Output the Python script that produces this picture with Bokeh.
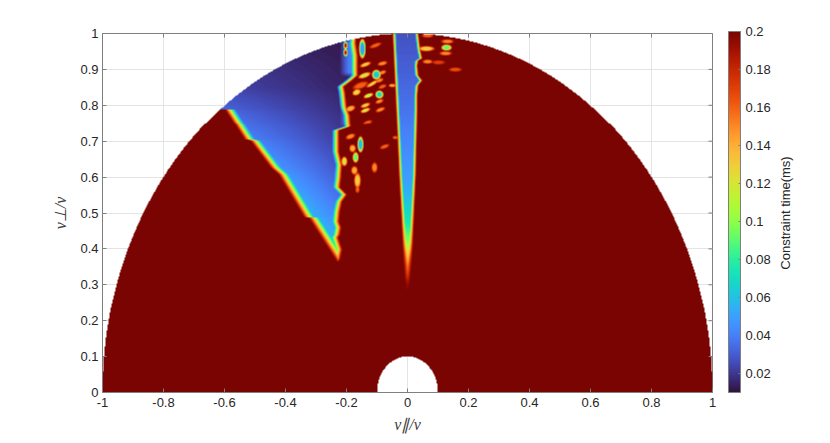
import numpy as np
from bokeh.embed import file_html
from bokeh.layouts import row
from bokeh.resources import INLINE
from bokeh.models import (ColorBar, FixedTicker, LinearColorMapper, Range1d)
from bokeh.palettes import Turbo256
from bokeh.plotting import figure

# ---- values -----------------------------------------------------------
x_ticks = [-1, -0.8, -0.6, -0.4, -0.2, 0, 0.2, 0.4, 0.6, 0.8, 1]
x_tick_labels = ["-1", "-0.8", "-0.6", "-0.4", "-0.2", "0", "0.2", "0.4", "0.6", "0.8", "1"]
y_ticks = [0, 0.1, 0.2, 0.3, 0.4, 0.5, 0.6, 0.7, 0.8, 0.9, 1]
y_tick_labels = ["0", "0.1", "0.2", "0.3", "0.4", "0.5", "0.6", "0.7", "0.8", "0.9", "1"]
cbar_ticks = [0.02, 0.04, 0.06, 0.08, 0.1, 0.12, 0.14, 0.16, 0.18, 0.2]
cbar_labels = ["0.02", "0.04", "0.06", "0.08", "0.1", "0.12", "0.14", "0.16", "0.18", "0.2"]
t_min, t_max = 0.01, 0.2

# wide wedge: lower-left boundary
wl_y = [0.363, 0.488, 0.489, 0.607, 0.626, 0.700, 0.705, 0.787, 0.790, 0.791, 1.0]
wl_x = [-0.230, -0.325, -0.340, -0.423, -0.449, -0.515, -0.535, -0.597, -0.600, -1.1, -1.1]
# wide wedge: jagged right boundary
wr_y = [0.363, 0.371, 0.399, 0.432, 0.440, 0.460, 0.476, 0.504, 0.532, 0.551, 0.571, 0.598, 0.634,
        0.670, 0.704, 0.729, 0.740, 0.773, 0.795, 0.814, 0.837, 0.853, 0.870, 0.884, 0.939, 0.972, 1.0]
wr_x = [-0.230, -0.220, -0.213, -0.226, -0.220, -0.216, -0.223, -0.220, -0.213, -0.197, -0.220, -0.216, -0.213,
        -0.223, -0.223, -0.223, -0.184, -0.187, -0.197, -0.200, -0.203, -0.207, -0.180, -0.161, -0.161, -0.167, -0.167]
# wide wedge: time at its left and right side, by height
wv_y = [0.363, 0.50, 0.60, 0.70, 0.78, 0.85, 0.95, 1.0]
wv_left = [0.062, 0.058, 0.050, 0.042, 0.034, 0.022, 0.014, 0.013]
wv_right = [0.060, 0.040, 0.030, 0.022, 0.018, 0.015, 0.013, 0.012]

# narrow central wedge
cl_y = [0.283, 0.307, 0.399, 0.607, 0.745, 1.0]
cl_x = [-0.005, -0.009, -0.016, -0.029, -0.036, -0.050]
cr_y = [0.283, 0.307, 0.399, 0.607, 0.787, 0.828, 0.856, 0.870, 0.884, 0.911, 0.925, 0.931, 0.953, 1.0]
cr_x = [0.005, 0.009, 0.018, 0.029, 0.034, 0.034, 0.037, 0.050, 0.037, 0.034, 0.037, 0.050, 0.044, 0.037]
cv_y = [0.283, 0.307, 0.335, 0.39, 0.42, 0.47, 0.557, 0.60, 0.70, 0.80, 0.90, 1.0]
cv_t = [0.200, 0.190, 0.165, 0.130, 0.100, 0.075, 0.055, 0.049, 0.042, 0.036, 0.031, 0.027]

# short-time patches in the scattered zone
blob_x = [-0.105, -0.138, -0.082, -0.141, -0.102, -0.082, -0.154, -0.115, -0.092, -0.167, -0.128, -0.092, -0.082,
          -0.187, -0.138, -0.138, -0.092, -0.089, -0.131, -0.187, -0.180, -0.154, -0.075, -0.170, -0.207, -0.108,
          -0.174, -0.164, -0.164, -0.148, 0.066, 0.062, 0.131, 0.128, 0.125, 0.102, 0.157, 0.066, -0.050, -0.040]
blob_y = [0.967, 0.914, 0.917, 0.884, 0.886, 0.892, 0.856, 0.861, 0.870, 0.837, 0.828, 0.831, 0.853,
          0.792, 0.801, 0.787, 0.812, 0.789, 0.753, 0.712, 0.679, 0.690, 0.684, 0.654, 0.643, 0.626,
          0.618, 0.590, 0.565, 0.958, 0.994, 0.958, 0.978, 0.961, 0.945, 0.920, 0.900, 0.922, 0.856, 0.709]
blob_w = [0.018, 0.016, 0.014, 0.018, 0.012, 0.011, 0.023, 0.020, 0.012, 0.012, 0.014, 0.011, 0.012,
          0.014, 0.014, 0.014, 0.012, 0.014, 0.014, 0.014, 0.009, 0.008, 0.014, 0.008, 0.008, 0.008,
          0.009, 0.009, 0.006, 0.009, 0.016, 0.022, 0.017, 0.014, 0.017, 0.018, 0.018, 0.014, 0.010, 0.008]
blob_h = [0.005, 0.005, 0.005, 0.006, 0.011, 0.005, 0.008, 0.005, 0.005, 0.007, 0.005, 0.009, 0.005,
          0.007, 0.005, 0.005, 0.005, 0.005, 0.005, 0.006, 0.009, 0.018, 0.005, 0.012, 0.011, 0.012,
          0.010, 0.018, 0.008, 0.022, 0.005, 0.006, 0.005, 0.007, 0.005, 0.005, 0.005, 0.005, 0.004, 0.004]
blob_tilt = [0.3, 0.3, 0.2, 0.3, 0.0, 0.3, 0.3, 0.5, 0.3, 0.3, 0.3, 0.0, 0.3,
             0.3, 0.3, 0.3, 0.3, 0.3, 0.3, 0.3, 0.0, 0.0, 0.3, 0.0, 0.0, 0.0,
             0.0, 0.0, 0.0, 0.0, 0.0, 0.0, 0.0, 0.0, 0.0, 0.0, 0.0, 0.0, 0.0, 0.0]
blob_t = [0.16, 0.13, 0.15, 0.12, 0.06, 0.15, 0.16, 0.13, 0.15, 0.12, 0.11, 0.07, 0.16,
          0.14, 0.13, 0.12, 0.15, 0.15, 0.16, 0.15, 0.14, 0.06, 0.16, 0.09, 0.12, 0.15,
          0.14, 0.13, 0.16, 0.05, 0.16, 0.13, 0.15, 0.09, 0.15, 0.17, 0.165, 0.15, 0.14, 0.16]

# long-time islands inside the bright strip
isle_x = [-0.203, -0.203]
isle_y = [0.967, 0.947]
isle_w = [0.008, 0.008]
isle_h = [0.012, 0.012]

# bright strips along the wedge's right side
strip_x0 = [-0.222, -0.222]
strip_x1 = [-0.161, -0.187]
strip_y0 = [0.880, 0.737]
strip_y1 = [0.985, 0.814]
strip_t = [0.040, 0.045]

# ---- build the time field on a grid ------------------------------------
nx, ny = 610, 361
xs = -1 + (np.arange(nx) + 0.5) * 2 / nx
ys = (np.arange(ny) + 0.5) / ny
X, Y = np.meshgrid(xs, ys)
Z = np.full(X.shape, t_max, dtype=float)

xl = np.interp(Y, wl_y, wl_x)
xr = np.interp(Y, wr_y, wr_x)
circle = -np.sqrt(np.clip(1 - Y**2, 0, 1))
xl_vis = np.maximum(xl, circle)
frac = np.clip((X - xl_vis) / np.maximum(-0.22 - xl_vis, 1e-3), 0, 1)
v_wedge = np.interp(Y, wv_y, wv_left) + (np.interp(Y, wv_y, wv_right) - np.interp(Y, wv_y, wv_left)) * frac

for x0, x1, y0, y1, t in zip(strip_x0, strip_x1, strip_y0, strip_y1, strip_t):
    fade = np.clip(np.minimum(Y - y0, y1 - Y) / 0.012, 0, 1)
    s = np.clip((X - x0) / 0.030, 0, 1) * fade
    v_wedge = np.where((s > 0) & (v_wedge < t), v_wedge + (t - v_wedge) * s, v_wedge)

d = np.minimum((X - xl) / 0.034, (xr - X) / 0.024)
ramp = np.clip(d, 0, 1)
inside = (Y >= wl_y[0]) & (d > 0)
Z = np.where(inside, t_max + (v_wedge - t_max) * ramp, Z)

cxl = np.interp(Y, cl_y, cl_x)
cxr = np.interp(Y, cr_y, cr_x)
half = np.maximum((cxr - cxl) / 2, 1e-4)
w = np.minimum(0.013, half)
dc = np.clip(np.minimum(X - cxl, cxr - X) / w, 0, 1)
in_c = (Y >= cl_y[0]) & (dc > 0)
v_c = np.interp(Y, cv_y, cv_t)
Z = np.where(in_c, t_max + (v_c - t_max) * dc, Z)

for bx, by, bw, bh, tilt, bt in zip(blob_x, blob_y, blob_w, blob_h, blob_tilt, blob_t):
    dx, dy = X - bx, Y - by
    u = (dx + dy * tilt) / (1.35 * bw)
    v = (dy - dx * tilt) / (1.35 * bh)
    Z = np.minimum(Z, t_max - (t_max - bt) * np.clip(1.25 * (1 - (u**2 + v**2)), 0, 1))

for bx, by, bw, bh in zip(isle_x, isle_y, isle_w, isle_h):
    f = np.clip(1 - (((X - bx) / bw) ** 2 + ((Y - by) / bh) ** 2), 0, 1)
    Z = Z + (t_max - Z) * f

R2 = X**2 + Y**2
Z[(R2 > 1) | (R2 < 0.1**2)] = np.nan

# ---- figure -------------------------------------------------------------
AXIS = "#7f7f7f"
TEXT = "#262626"
p = figure(width=774, height=435, output_backend="svg", toolbar_location=None,
           x_range=Range1d(-1, 1), y_range=Range1d(0, 1),
           min_border_left=102, min_border_right=62, min_border_top=33, min_border_bottom=41)
p.background_fill_color = "white"
p.outline_line_color = AXIS
mapper = LinearColorMapper(palette=Turbo256, low=t_min, high=t_max, nan_color=(0, 0, 0, 0))
p.image(image=[Z], x=-1, y=0, dw=2, dh=1, color_mapper=mapper)

p.xgrid.ticker = FixedTicker(ticks=x_ticks)
p.ygrid.ticker = FixedTicker(ticks=y_ticks)
p.xgrid.grid_line_color = "#e4e4e4"
p.ygrid.grid_line_color = "#e4e4e4"

p.xaxis.ticker = FixedTicker(ticks=x_ticks)
p.yaxis.ticker = FixedTicker(ticks=y_ticks)
p.xaxis.major_label_overrides = dict(zip(x_ticks, x_tick_labels))
p.yaxis.major_label_overrides = dict(zip(y_ticks, y_tick_labels))
p.xaxis.axis_label = "v∥/v"
p.yaxis.axis_label = "v⊥/v"

# inward ticks on the top and right edges of the box (half of each dash is clipped by the frame)
p.scatter(x=x_ticks, y=[1] * len(x_ticks), marker="dash", size=8, angle=np.pi / 2, line_color=AXIS)
p.scatter(x=[1] * len(y_ticks), y=y_ticks, marker="dash", size=8, line_color=AXIS)

for ax in [p.xaxis[0], p.yaxis[0]]:
    ax.axis_line_color = AXIS
    ax.major_tick_line_color = AXIS
    ax.major_tick_in = 4
    ax.major_tick_out = 0
    ax.minor_tick_line_color = None
    ax.major_label_text_font = "Liberation Sans"
    ax.major_label_text_font_size = "13px"
    ax.major_label_text_color = TEXT
    ax.axis_label_text_font = "Liberation Serif"
    ax.axis_label_text_font_style = "italic"
    ax.axis_label_text_font_size = "16px"
    ax.axis_label_text_color = "#404040"
p.xaxis[0].major_label_standoff = 5
p.yaxis[0].major_label_standoff = 4
p.xaxis[0].axis_label_standoff = 6
p.yaxis[0].axis_label_standoff = 8

cb = ColorBar(color_mapper=mapper, location=(626, 0), width=12, height=361, margin=0, padding=0,
              ticker=FixedTicker(ticks=cbar_ticks),
              major_label_overrides=dict(zip(cbar_ticks, cbar_labels)),
              major_label_text_font="Liberation Sans", major_label_text_font_size="13px",
              major_label_text_color=TEXT, major_tick_line_color=AXIS, major_tick_in=2,
              minor_tick_line_color=None, bar_line_color=AXIS, background_fill_color=None,
              label_standoff=5)
p.add_layout(cb)

# narrow companion figure whose empty left axis carries the colour bar's title
p2 = figure(width=48, height=435, output_backend="svg", toolbar_location=None,
            x_range=Range1d(0, 1), y_range=Range1d(0, 1),
            min_border_left=16, min_border_right=0, min_border_top=33, min_border_bottom=41)
p2.outline_line_color = None
p2.xaxis.visible = False
p2.xgrid.visible = False
p2.ygrid.visible = False
yax = p2.yaxis[0]
yax.ticker = FixedTicker(ticks=[])
yax.axis_line_color = None
yax.major_tick_line_color = None
yax.minor_tick_line_color = None
yax.axis_label = "Constraint time(ms)"
yax.axis_label_standoff = 0
yax.axis_label_text_font = "Liberation Sans"
yax.axis_label_text_font_style = "normal"
yax.axis_label_text_font_size = "13px"
yax.axis_label_text_color = TEXT

open("out.html", "w").write(file_html(row(p, p2, spacing=0), INLINE))
